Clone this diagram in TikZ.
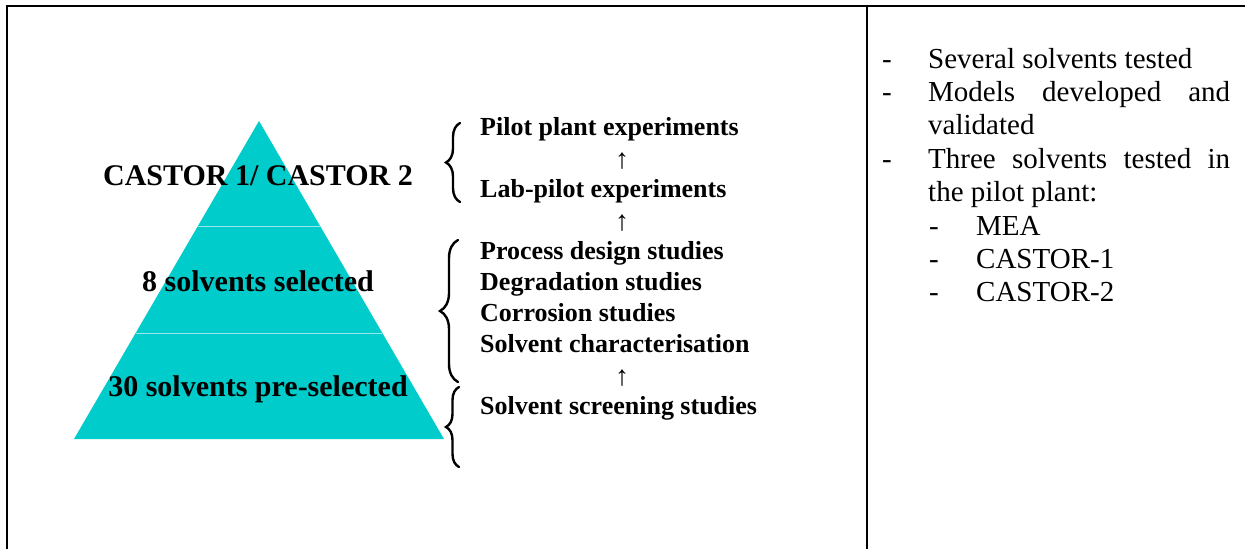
\documentclass[tikz,border=0pt]{standalone}
\usepackage{fontspec}
\setmainfont{Liberation Serif}
\usetikzlibrary{decorations.pathreplacing}
\definecolor{pyrcol}{RGB}{0,204,204}
\definecolor{divcol}{RGB}{150,232,232}
\begin{document}
\begin{tikzpicture}[x=1pt,y=-1pt,
  lbl/.style={inner sep=0pt, anchor=base west, font=\fontsize{26}{31}\selectfont\bfseries},
  arr/.style={inner sep=0pt, anchor=base, font=\fontsize{28}{31}\selectfont},
  pyr/.style={inner sep=0pt, anchor=base, font=\fontsize{30}{36}\selectfont\bfseries},
  rtxt/.style={inner sep=0pt, anchor=base west, font=\fontsize{29}{33}\selectfont},
  frameline/.style={line width=2.3pt},
  brc/.style={decorate, decoration={brace, amplitude=#1}, line width=2.4pt, line cap=round}
]
\useasboundingbox (0,0) rectangle (1245,549);
\fill[white] (0,0) rectangle (1245,549);
% frame
\draw[frameline] (7,549) -- (7,6) -- (1245,6);
\draw[frameline] (867,6) -- (867,549);

% pyramid
\fill[pyrcol] (259,121) -- (444,439) -- (74,439) -- cycle;
\draw[divcol, line width=1pt] (197.9,226) -- (320.1,226);
\draw[divcol, line width=1pt] (135.7,333) -- (382.3,333);
\node[pyr] (p1) at (258,185.5) {CASTOR 1/ CASTOR 2};
\node[pyr] (p2) at (258,291) {8 solvents selected};
\node[pyr] (p3) at (258,396.5) {30 solvents pre-selected};

% left column
\node[lbl] (l1) at (480,135) {Pilot plant experiments};
\node[arr] (a1) at (622,168) {↑};
\node[lbl] (l2) at (480,197.2) {Lab-pilot experiments};
\node[arr] (a2) at (622,230.2) {↑};
\node[lbl] (l3) at (480,259.4) {Process design studies};
\node[lbl] (l4) at (480,290.5) {Degradation studies};
\node[lbl] (l5) at (480,321.6) {Corrosion studies};
\node[lbl] (l6) at (480,352.7) {Solvent characterisation};
\node[arr] (a3) at (622,385.7) {↑};
\node[lbl] (l7) at (480,414.9) {Solvent screening studies};

% braces
\coordinate (b1b) at (460,202);
\coordinate (b1t) at (460,123);
\coordinate (b2b) at (458,382);
\coordinate (b2t) at (458,240);
\coordinate (b3b) at (459,467);
\coordinate (b3t) at (459,387);
\draw[brc=14pt] (b1b) -- (b1t);
\draw[brc=18pt] (b2b) -- (b2t);
\draw[brc=13pt] (b3b) -- (b3t);

% right column
\node[rtxt] (d1) at (882,68) {-};
\node[rtxt] (r1) at (928,68) {Several solvents tested};
\node[rtxt] (d2) at (882,101.4) {-};
\node[rtxt] (r2) at (928,101.4) {\makebox[302pt][s]{Models developed and}};
\node[rtxt] (r3) at (928,134.8) {validated};
\node[rtxt] (d3) at (882,168.2) {-};
\node[rtxt] (r4) at (928,168.2) {\makebox[302pt][s]{Three solvents tested in}};
\node[rtxt] (r5) at (928,201.6) {the pilot plant:};
\node[rtxt] (d4) at (929,235) {-};
\node[rtxt] (r6) at (976,235) {MEA};
\node[rtxt] (d5) at (929,268.4) {-};
\node[rtxt] (r7) at (976,268.4) {CASTOR-1};
\node[rtxt] (d6) at (929,301.8) {-};
\node[rtxt] (r8) at (976,301.8) {CASTOR-2};
\end{tikzpicture}
\end{document}
